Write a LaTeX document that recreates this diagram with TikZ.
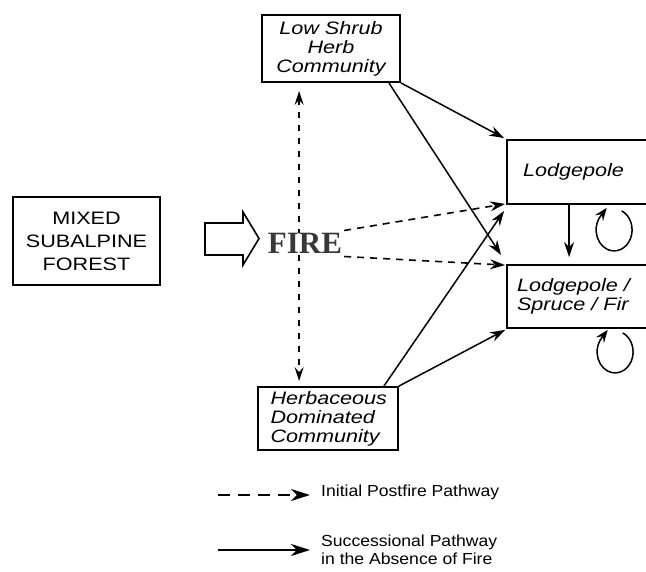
\documentclass[tikz,border=0pt]{standalone}
\usepackage{fontspec}
\newfontfamily\labfont[FakeStretch=1.2]{Liberation Sans}
\newfontfamily\legfont[FakeStretch=1.1]{Liberation Sans}
\newfontfamily\firefont{Liberation Serif}
\usetikzlibrary{arrows.meta,calc}
\begin{document}
\begin{tikzpicture}[x=1pt,y=-1pt,
  box/.style={draw, line width=1.8pt, inner sep=0pt, font=\labfont\itshape\fontsize{18}{19}\selectfont},
  tip/.style={-{Stealth[length=15pt,width=10pt,inset=5pt]}},
  bigtip/.style={-{Stealth[length=19pt,width=12pt,inset=6pt]}},
  solidarrow/.style={tip, line width=1.5pt},
  dasharrow/.style={tip, line width=1.6pt, dash pattern=on 7pt off 6pt},
  looparrow/.style={-{Stealth[length=13pt,width=10pt,inset=5pt]}, line width=1.5pt},
  legtext/.style={font=\legfont\fontsize{16}{18}\selectfont, inner sep=0pt, anchor=west, align=left}
]
\clip (0,0) rectangle (646,572);
\fill[white] (0,0) rectangle (646,572);

% boxes
\node[box, font=\labfont\fontsize{18}{23}\selectfont, minimum width=147pt, minimum height=88pt, align=center] (mixed) at (86.5,241) {MIXED\\SUBALPINE\\FOREST};
\node[box, minimum width=138pt, minimum height=67pt, align=center] (shrub) at (331,48.5) {Low Shrub\\Herb\\Community};
\node[box, minimum width=140pt, minimum height=63pt, text width=115pt, align=left] (herb) at (328,418.5) {Herbaceous\\Dominated\\Community};
\node[box, minimum width=153pt, minimum height=64pt, text width=121pt, align=left] (lodge) at (583.5,172) {Lodgepole};
\node[box, minimum width=153pt, minimum height=63pt, text width=133pt, align=left] (lsf) at (583.5,296.5) {Lodgepole /\\Spruce / Fir};

% block arrow
\draw[line width=1.6pt, fill=white, line join=miter] (205,223) -- (243,223) -- (243,212) -- (259,238.5) -- (243,265) -- (243,255) -- (205,255) -- cycle;

% vertical dashed double arrow
\coordinate (vtop) at ($(shrub.south west)+(38,8)$);
\coordinate (vbot) at ($(herb.north west)+(42,-5)$);
\draw[line width=1.6pt, dash pattern=on 6pt off 7pt, {Stealth[length=14pt,width=9pt,inset=5pt]}-{Stealth[length=14pt,width=9pt,inset=5pt]}] (vtop) -- (vbot);

% FIRE
\node[fill=white, inner sep=0pt, text=black!78, font=\firefont\bfseries\fontsize{31}{31}\selectfont] (fire) at (305,243.5) {FIRE};

% dashed arrows from FIRE
\draw[dasharrow] ($(fire.east)+(2,-13)$) -- ($(lodge.south west)+(-1,-1)$);
\draw[dasharrow] ($(fire.east)+(2,13)$) -- ($(lsf.north west)+(-1,1)$);

% solid successional arrows
\draw[solidarrow] (shrub.south east) -- ($(lodge.north west)+(-2,-1)$);
\draw[solidarrow] ($(shrub.south east)+(-12,0)$) -- ($(lsf.north west)+(-5,-9)$);
\draw[solidarrow] ($(herb.north east)+(-15,0)$) -- ($(lodge.south west)+(-2,6)$);
\draw[solidarrow] (herb.north east) -- ($(lsf.south west)+(-1,1)$);
\draw[solidarrow] ($(lodge.south west)+(63,0)$) -- ($(lsf.north west)+(63,-7)$);

% self loops
\coordinate (loopA) at ($(lodge.south west)+(108,25)$);
\coordinate (loopB) at ($(lsf.south west)+(109,23)$);
\draw[looparrow] (loopA) ++(-65:18 and 21) arc[start angle=-65, end angle=222, x radius=18, y radius=21] -- ++(6,-8);
\draw[looparrow] (loopB) ++(-65:18 and 21) arc[start angle=-65, end angle=222, x radius=18, y radius=21] -- ++(6,-8);

% legend
\coordinate (d1) at (218,495);
\coordinate (d2) at (310,495);
\draw[bigtip, line width=1.8pt, dash pattern=on 12pt off 8pt] (d1) -- (d2);
\node[legtext] (leg1) at (321,492) {Initial Postfire Pathway};
\coordinate (s1) at (218,550);
\coordinate (s2) at (310,550);
\draw[bigtip, line width=1.8pt] (s1) -- (s2);
\node[legtext] (leg2) at (321,550) {Successional Pathway\\in the Absence of Fire};
\end{tikzpicture}
\end{document}
